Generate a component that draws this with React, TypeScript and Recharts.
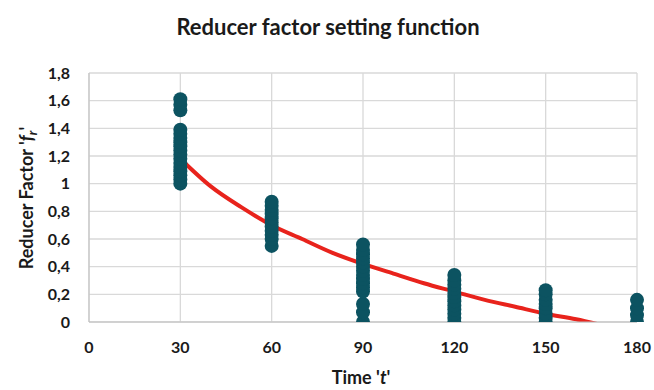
import { ComposedChart, Scatter, Line, XAxis, YAxis, CartesianGrid } from 'recharts';

const timeTicks = [0, 30, 60, 90, 120, 150, 180];
const factorTicks = [0, 0.2, 0.4, 0.6, 0.8, 1, 1.2, 1.4, 1.6, 1.8];

// measured reducer factors per time step
const at30 = [1.0, 1.03, 1.06, 1.09, 1.12, 1.15, 1.18, 1.21, 1.24, 1.27, 1.3, 1.33, 1.36, 1.39, 1.53, 1.57, 1.61];
const at60 = [0.55, 0.6, 0.63, 0.66, 0.69, 0.72, 0.75, 0.78, 0.81, 0.84, 0.87];
const at90 = [0, 0.07, 0.13, 0.22, 0.25, 0.28, 0.31, 0.34, 0.37, 0.4, 0.43, 0.46, 0.49, 0.52, 0.56];
const at120 = [0, 0.03, 0.06, 0.09, 0.12, 0.15, 0.18, 0.21, 0.24, 0.27, 0.3, 0.34];
const at150 = [0, 0.03, 0.06, 0.1, 0.13, 0.16, 0.2, 0.23];
const at180 = [0, 0.05, 0.1, 0.16];

// fitted setting function
const curveTime = [30, 40, 50, 60, 70, 80, 90, 100, 110, 120, 130, 140, 150, 160, 168];
const curveFactor = [1.18, 0.98, 0.83, 0.7, 0.6, 0.5, 0.42, 0.35, 0.28, 0.22, 0.16, 0.11, 0.06, 0.02, -0.02];

const groups: [number, number[]][] = [[30, at30], [60, at60], [90, at90], [120, at120], [150, at150], [180, at180]];
const scatterData = groups.flatMap(([t, vals]) => vals.map((f) => ({ t, f })));
const curveData = curveTime.map((t, i) => ({ t, f: curveFactor[i] }));

const font = 'Lato, "Open Sans", sans-serif';
const fmt = (v: number) => String(v).replace('.', ',');
const tickStyle = { fontSize: 16, fontWeight: 700, fill: '#1a1a1a', fontFamily: font };

const Dot = (props: any) => <circle cx={props.cx} cy={props.cy} r={7} fill="#0c5361" />;

const App = () => (
  <div style={{ position: 'absolute', left: 0, top: 0, width: 654, height: 390, background: '#fff', fontFamily: font }}>
    <svg width={654} height={390} style={{ position: 'absolute', left: 0, top: 0 }}>
      <text x={328} y={35} textAnchor="middle" fontSize={22} fontWeight={700} fill="#1a1a1a" fontFamily={font}>
        Reducer factor setting function
      </text>
      <text transform="translate(33,198) rotate(-90)" textAnchor="middle" fontSize={18} fontWeight={700} fill="#1a1a1a" fontFamily={font}>
        Reducer Factor '<tspan fontStyle="italic">f</tspan>
        <tspan fontStyle="italic" fontSize={13} dy={4}>r</tspan>
        <tspan dy={-4}>'</tspan>
      </text>
      <text x={361} y={384} textAnchor="middle" fontSize={18} fontWeight={700} fill="#1a1a1a" fontFamily={font}>
        Time '<tspan fontStyle="italic">t</tspan>'
      </text>
    </svg>
    <div style={{ position: 'absolute', left: 0, top: 0 }}>
      <ComposedChart width={654} height={390} margin={{ top: 73, right: 17, left: 0, bottom: 0 }}>
        <CartesianGrid stroke="#d9d9d9" strokeWidth={1.3} />
        <XAxis
          dataKey="t"
          type="number"
          domain={[0, 180]}
          ticks={timeTicks}
          interval={0}
          height={68}
          stroke="#bfbfbf"
          tickLine={false}
          tickSize={0}
          tickMargin={20}
          tick={tickStyle}
        />
        <YAxis
          type="number"
          domain={[0, 1.8]}
          ticks={factorTicks}
          interval={0}
          allowDataOverflow
          width={89}
          stroke="#bfbfbf"
          tickLine={false}
          tickSize={0}
          tickMargin={19}
          tickFormatter={fmt}
          tick={tickStyle}
        />
        <Line
          data={curveData}
          dataKey="f"
          type="monotone"
          stroke="#e8231c"
          strokeWidth={4}
          dot={false}
          isAnimationActive={false}
        />
        <Scatter data={scatterData} dataKey="f" shape={Dot} isAnimationActive={false} />
      </ComposedChart>
    </div>
  </div>
);

export default App;
